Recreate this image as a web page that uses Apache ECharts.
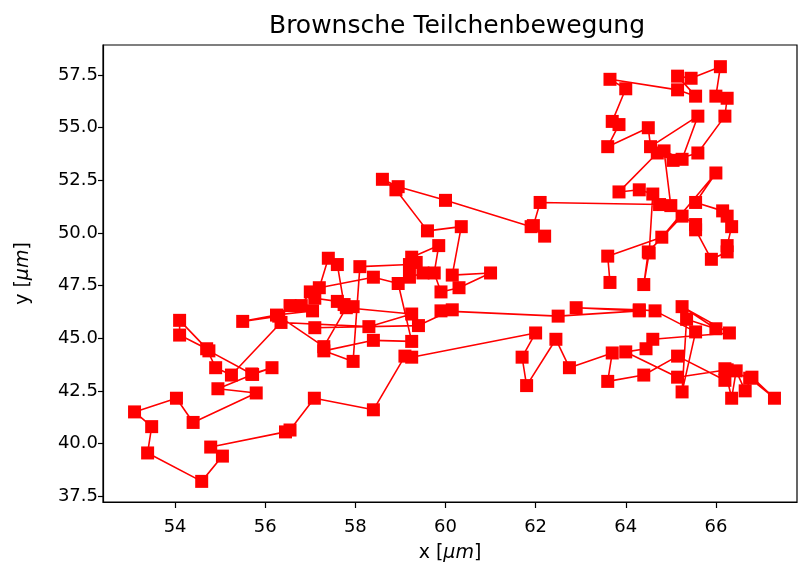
<!DOCTYPE html>
<html>
<head>
<meta charset="utf-8">
<script src="https://cdn.jsdelivr.net/npm/echarts@6/dist/echarts.min.js"></script>
<style>html,body{margin:0;padding:0;background:#fff}#c{width:798px;height:569px}</style>
</head>
<body>
<div id="c"></div>
<script>
const titleText = 'Brownsche Teilchenbewegung';
const xTicks = [54, 56, 58, 60, 62, 64, 66];
const yTicks = [37.5, 40.0, 42.5, 45.0, 47.5, 50.0, 52.5, 55.0, 57.5];
const xs = [63.65,63.6,64.8,66.0,65.55,66.15,66.25,66.35,66.25,66.25,65.9,65.55,65.55,65.25,64.5,64.4,64.52,64.6,64.3,63.85,
64.7,65.05,65.6,66.2,66.25,66.0,66.1,65.45,65.15,65.55,65.15,63.65,64.0,63.7,63.85,63.6,64.5,64.55,65.6,65.25,
64.85,65.0,64.75,62.1,61.95,62.2,61.9,60.0,58.95,58.6,58.9,59.6,60.35,60.15,61.0,60.3,59.9,59.75,59.85,59.25,
59.35,59.5,59.2,59.2,58.1,57.95,57.3,58.4,59.25,58.95,58.4,57.2,57.4,57.6,57.75,57.95,57.6,57.1,57.0,56.8,
56.55,57.05,56.25,55.5,56.3,57.3,57.8,59.25,58.3,56.35,55.25,54.9,54.7,54.1,54.1,54.75,55.7,56.15,55.72,54.95,
55.8,54.4,54.03,53.1,53.48,53.39,54.59,55.05,54.79,56.45,56.55,57.09,58.4,59.1,59.25,62.0,61.7,61.8,62.45,62.75,
63.7,63.6,64.4,65.15,66.2,66.2,66.35,66.45,66.65,66.8,67.3,66.75,66.25,65.15,64.0,64.45,64.6,66.3,65.25,66.0,
65.35,65.25,65.55,64.65,64.3,62.9,64.3,62.5,59.9,60.15,59.4,57.1];
const ys = [47.65,48.9,49.8,52.85,51.45,51.05,50.8,50.3,49.4,49.1,48.75,50.15,50.4,50.8,49.1,47.55,49.05,51.85,52.05,51.95,
53.8,53.45,53.8,55.55,56.4,56.5,57.9,57.35,57.45,56.5,56.8,57.3,56.85,55.3,55.15,54.1,55.0,54.1,55.55,53.5,
53.9,51.3,51.35,51.45,50.35,49.85,50.3,51.55,52.2,52.55,52.05,50.1,50.3,48.0,48.1,47.4,47.2,48.1,49.4,48.85,
48.6,48.1,47.9,48.5,48.4,43.9,44.4,44.9,44.85,47.6,47.9,47.4,48.8,48.5,46.6,46.5,46.75,46.9,47.2,46.55,
46.55,46.3,46.1,45.8,46.05,44.6,46.45,46.15,45.55,45.75,43.25,43.6,44.5,45.15,45.85,44.4,43.3,43.6,43.28,42.6,
42.4,41.0,42.15,41.5,40.8,39.55,38.2,39.4,39.83,40.55,40.64,42.15,41.6,44.15,44.1,45.25,44.1,42.75,44.95,43.6,
44.3,42.95,43.25,44.15,43.0,43.55,42.15,43.45,42.5,43.15,42.15,43.1,43.5,43.15,44.35,44.5,44.95,45.25,46.5,45.45,
45.9,42.45,45.3,46.3,46.35,46.45,46.3,46.05,46.3,46.35,45.6,45.5];

const data = xs.map((x, i) => [x, ys[i]]);
const font = 'DejaVu Sans';
const chart = echarts.init(document.getElementById('c'), null, {renderer: 'canvas'});
chart.setOption({
  animation: false,
  backgroundColor: '#ffffff',
  title: {
    text: titleText, left: 452, top: 9, textAlign: 'center',
    textStyle: {fontFamily: font, fontSize: 25, fontWeight: 'normal', color: '#000'}
  },
  grid: {left: 103, right: 1, top: 45, bottom: 67, show: true, borderColor: '#000', borderWidth: 1.2, backgroundColor: 'transparent'},
  xAxis: {
    type: 'value', min: 52.4, max: 67.8,
    name: 'x [{i|μm}]', nameLocation: 'middle', nameGap: 42,
    nameTextStyle: {fontFamily: font, fontSize: 19, color: '#000', rich: {i: {fontFamily: font, fontSize: 19, fontStyle: 'italic', color: '#000'}}},
    axisLine: {show: true, onZero: false, lineStyle: {color: '#000', width: 1.2}},
    axisTick: {show: true, inside: false, length: 6, lineStyle: {color: '#000', width: 1.2}, customValues: xTicks},
    axisLabel: {show: true, margin: 16, fontFamily: font, fontSize: 18, color: '#000', customValues: xTicks, formatter: v => String(v)},
    splitLine: {show: false}
  },
  yAxis: {
    type: 'value', min: 37.22, max: 58.93,
    name: 'y [{i|μm}]', nameLocation: 'middle', nameGap: 70, nameRotate: 90,
    nameTextStyle: {fontFamily: font, fontSize: 19, color: '#000', rich: {i: {fontFamily: font, fontSize: 19, fontStyle: 'italic', color: '#000'}}},
    axisLine: {show: true, onZero: false, lineStyle: {color: '#000', width: 1.2}},
    axisTick: {show: true, inside: false, length: 5, lineStyle: {color: '#000', width: 1.2}, customValues: yTicks},
    axisLabel: {show: true, margin: 5, fontFamily: font, fontSize: 18, color: '#000', customValues: yTicks, formatter: v => v.toFixed(1)},
    splitLine: {show: false}
  },
  series: [{
    type: 'line',
    data: data,
    symbol: 'rect',
    symbolSize: 13,
    showAllSymbol: true,
    lineStyle: {color: '#ff0000', width: 1.6},
    itemStyle: {color: '#ff0000', borderWidth: 0},
    emphasis: {disabled: true}
  }]
});
</script>
</body>
</html>
